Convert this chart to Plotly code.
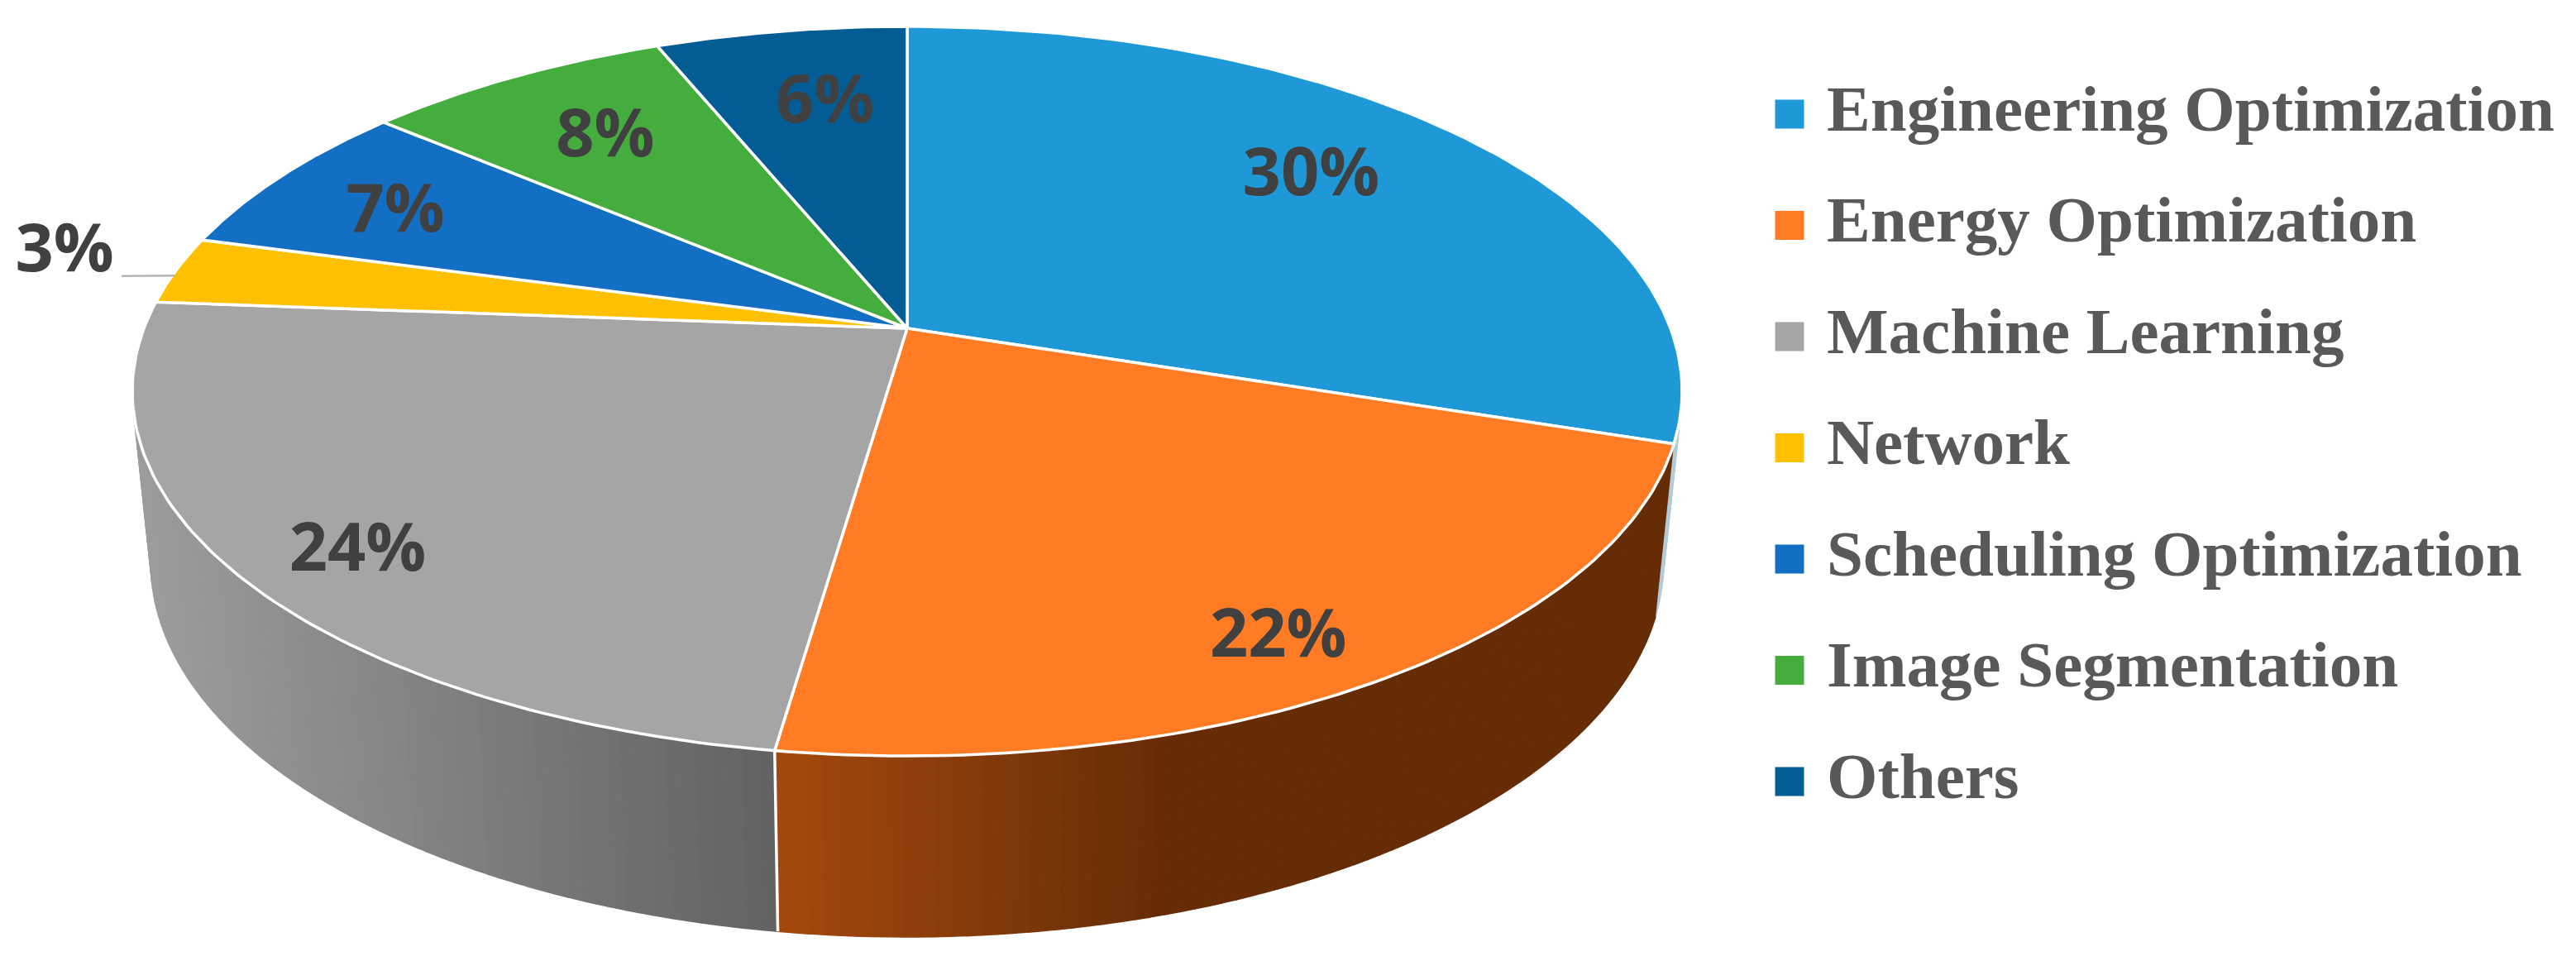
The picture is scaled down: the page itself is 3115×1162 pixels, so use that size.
import numpy as np
import plotly.graph_objects as go

categories = ["Engineering Optimization", "Energy Optimization", "Machine Learning", "Network",
              "Scheduling Optimization", "Image Segmentation", "Others"]
values = [30, 22.3, 23.9, 3, 7, 7.6, 6.2]
colors = ["#1E98D7", "#FF7C24", "#A5A5A5", "#FFC000", "#126FC4", "#44AD3E", "#045C94"]
label_turn = [-3.7, 2.5, -2.1, 1.8, -1.0, 0.3, 1.7]
label_reach = [0.744, 0.863, 0.859, 1.172, 0.797, 0.749, 0.736]

W, H = 3115, 1162
CX, CY, A, B, K = 1097, 397, 923, 428, 0.1723
CY2, A2, B2 = 602, 901, 439.5
LABEL = "#404040"
LEGEND = "#595959"


def top(theta, r=1.0):
    t = np.radians(theta)
    u, v = r * np.sin(t), r * np.cos(t)
    d = 1 + K * v
    return CX + A * u / d, CY - B * v / d


def low(theta):
    t = np.radians(theta)
    u, v = np.sin(t), np.cos(t)
    d = 1 + K * v
    return CX + A2 * u / d, CY2 - B2 * v / d


def mix(c1, c2, f):
    f = min(1, max(0, f))
    return "rgb(%d,%d,%d)" % tuple(round(a + (b - a) * f) for a, b in zip(c1, c2))


def wall_color(i, x):
    if i == 0:
        return "#B4CBD9"
    if i == 1:
        return mix((0xA3, 0x49, 0x0E), (0x66, 0x2C, 0x06), (x - 945) / 470)
    return mix((0x9C, 0x9C, 0x9C), (0x62, 0x62, 0x62), (x - 170) / 765)


total = sum(values)
edges = np.concatenate([[0], np.cumsum(values)]) / total * 360
ext = np.degrees(np.arccos(-K))
fig = go.Figure()

# side wall
for i in range(3):
    a0 = max(edges[i], ext)
    a1 = min(edges[i + 1], 360 - ext)
    n = max(2, int((a1 - a0) / 1.0))
    grid = np.linspace(a0, a1, n + 1)
    for s, e in zip(grid[:-1], grid[1:]):
        xa, ya = top(np.linspace(s, e, 4))
        xb, yb = low(np.linspace(e, s, 4))
        c = wall_color(i, float(np.mean(xa)))
        fig.add_trace(go.Scatter(x=np.r_[xa, xb], y=np.r_[ya, yb], mode="lines", fill="toself",
                                 fillcolor=c, line=dict(color=c, width=1.5), hoverinfo="skip",
                                 showlegend=False))

# white seam on the wall between the grey and orange slices
x0, y0 = top(edges[2])
x1, y1 = low(edges[2])
fig.add_trace(go.Scatter(x=[x0, x1], y=[y0, y1], mode="lines", line=dict(color="white", width=3.5),
                         hoverinfo="skip", showlegend=False))

# top face
for i, name in enumerate(categories):
    th = np.linspace(edges[i], edges[i + 1], 90)
    x, y = top(th)
    fig.add_trace(go.Scatter(x=np.r_[CX, x, CX], y=np.r_[CY, y, CY], mode="lines", fill="toself",
                             fillcolor=colors[i], line=dict(color="white", width=3.5), name=name,
                             text=f"{name}: {values[i]:.0f}%", hoverinfo="text", showlegend=False))

# leader line for the small slice
mid3 = (edges[3] + edges[4]) / 2
lx, ly = top(mid3 + 1.8, 1.172)
ex, ey = top(mid3 - 0.2, 1.0)
fig.add_trace(go.Scatter(x=[lx + 69, ex], y=[ly + 33, ey + 5], mode="lines",
                         line=dict(color="#B5B5B5", width=2.5), hoverinfo="skip", showlegend=False))

# percentage labels
lab_x, lab_y, lab_t = [], [], []
for i, v in enumerate(values):
    m = (edges[i] + edges[i + 1]) / 2 + label_turn[i]
    x, y = top(m, label_reach[i])
    lab_x.append(x)
    lab_y.append(y + 7)
    lab_t.append(f"{v:.0f}%")
fig.add_trace(go.Scatter(x=lab_x, y=lab_y, text=lab_t, mode="text", textposition="middle center",
                         textfont=dict(family="Open Sans", size=81, color=LABEL, weight="bold"),
                         hoverinfo="skip", showlegend=False))

# legend column
rows = [138 + 134.5 * i for i in range(len(categories))]
fig.add_trace(go.Scatter(x=[2164] * len(rows), y=rows, mode="markers",
                         marker=dict(symbol="square", size=35, color=colors, line=dict(width=0)),
                         hoverinfo="skip", showlegend=False))
fig.add_trace(go.Scatter(x=[2209] * len(rows), y=rows, text=categories, mode="text",
                         textposition="middle right",
                         textfont=dict(family="Liberation Serif", size=79, color=LEGEND, weight="bold"),
                         hoverinfo="skip", showlegend=False))

fig.update_layout(width=W, height=H, margin=dict(l=0, r=0, t=0, b=0), paper_bgcolor="white",
                  plot_bgcolor="white",
                  xaxis=dict(range=[0, W], visible=False, fixedrange=True),
                  yaxis=dict(range=[H, 0], visible=False, fixedrange=True))
fig.write_html("out.html", post_script="document.body.style.margin='0';document.body.style.overflow='hidden';",
               config=dict(displayModeBar=False))
